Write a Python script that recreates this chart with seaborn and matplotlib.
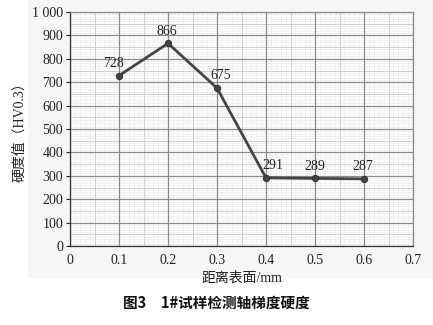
import numpy as np
import pandas as pd
import seaborn as sns
import matplotlib
matplotlib.use("Agg")
import matplotlib.pyplot as plt
from matplotlib.patches import Rectangle

distance = [0.1, 0.2, 0.3, 0.4, 0.5, 0.6]
hardness = [728, 866, 675, 291, 289, 287]
x_ticks = [0, 0.1, 0.2, 0.3, 0.4, 0.5, 0.6, 0.7]
y_ticks = [0, 100, 200, 300, 400, 500, 600, 700, 800, 900, 1000]
y_tick_labels = ["0", "100", "200", "300", "400", "500", "600", "700", "800", "900", "1 000"]
x_label = "距离表面/mm"
y_label = "硬度值（HV0.3）"
caption = "图3　1#试样检测轴梯度硬度"

sns.set_theme(style="white")
plt.rcParams['font.family'] = ['Liberation Serif', 'Noto Sans CJK SC', 'DejaVu Sans']

df = pd.DataFrame({"d": distance, "h": hardness})

fig = plt.figure(figsize=(4.33, 3.25), dpi=100)
fig.patch.set_facecolor("white")
fig.patches.append(Rectangle((28/433, 1-278/325), 1-28/433, 278/325, transform=fig.transFigure,
                             facecolor="#f6f6f6", edgecolor="none", zorder=-10))
ax = fig.add_axes([70/433, 1-246/325, (413-70)/433, (246-12)/325])
ax.set_facecolor("white")

# grid
for v in np.arange(0, 0.7001, 0.01):
    ax.axvline(v, color="#ececec", lw=0.5, zorder=0)
for v in np.arange(0, 1000.1, 10):
    ax.axhline(v, color="#ececec", lw=0.5, zorder=0)
for v in np.arange(0, 0.7001, 0.05):
    ax.axvline(v, color="#cfcfcf", lw=0.7, zorder=0)
for v in np.arange(0, 1000.1, 50):
    ax.axhline(v, color="#cfcfcf", lw=0.7, zorder=0)
for v in x_ticks:
    ax.axvline(v, color="#8a8a8a", lw=0.9, zorder=0)
for v in y_ticks:
    ax.axhline(v, color="#8a8a8a", lw=0.9, zorder=0)

sns.lineplot(data=df, x="d", y="h", ax=ax, color="#444444", lw=2.0, marker="o",
             markersize=4.5, markeredgecolor="#333333", zorder=3)

offsets = [(-4, 4), (-1, 4), (3, 4), (5, 4), (0, 4), (-1, 4)]
for (x, y), (dx, dy) in zip(zip(distance, hardness), offsets):
    ax.annotate(str(y), (x, y), xytext=(dx, dy), textcoords="offset points", ha="center", va="bottom",
                fontsize=10, color="#222222", family="Liberation Serif")

ax.set_xlim(0, 0.7)
ax.set_ylim(0, 1000)
ax.set_xticks(x_ticks)
ax.set_xticklabels(["0", "0.1", "0.2", "0.3", "0.4", "0.5", "0.6", "0.7"])
ax.set_yticks(y_ticks)
ax.set_yticklabels(y_tick_labels)
ax.tick_params(axis="both", labelsize=10, colors="#222222", length=3, width=0.8, direction="out", pad=2)
ax.tick_params(axis="x", length=0, pad=6)
ax.tick_params(left=True)
for s in ax.spines.values():
    s.set_color("#8a8a8a")
    s.set_linewidth(0.9)
ax.spines["left"].set_color("#333333")
ax.spines["bottom"].set_color("#333333")

ax.set_xlabel(x_label, fontsize=10, color="#222222", labelpad=3, family=['Liberation Serif', 'Noto Sans CJK SC'])
ax.set_ylabel(y_label, fontsize=10, color="#222222", labelpad=4, family=['Liberation Serif', 'Noto Sans CJK SC'])

fig.text(0.5, 1-303/325, caption, ha="center", va="center", fontsize=10.5, fontweight="bold",
         family=['Noto Sans CJK SC', 'DejaVu Sans'], color="#111111")

fig.savefig("out.png", dpi=100)
